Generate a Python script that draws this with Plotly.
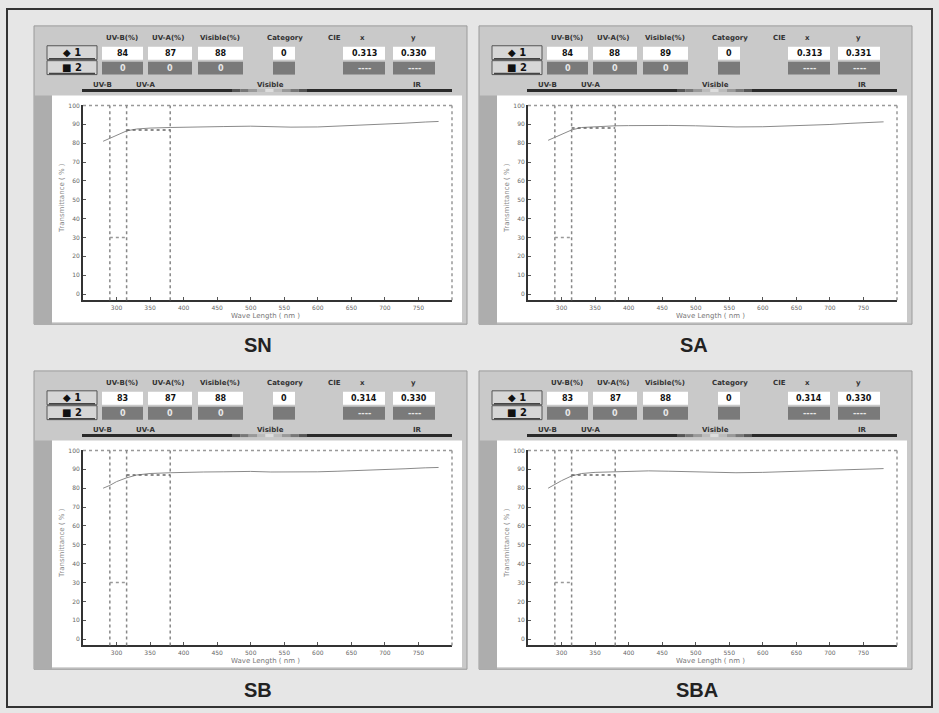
import plotly.graph_objects as go

W, H = 939, 713

# ---------------- data ----------------
SAMPLES = ["SN", "SA", "SB", "SBA"]
WAVELENGTH = [280, 290, 300, 315, 330, 350, 380, 400, 430, 460, 500, 530, 560, 600, 630, 660, 700, 730, 760, 780]
T_SN = [81.0, 82.5, 84.0, 86.5, 87.5, 88.0, 88.3, 88.5, 88.6, 88.8, 89.0, 88.7, 88.5, 88.6, 89.0, 89.5, 90.0, 90.6, 91.2, 91.5]
T_SA = [81.5, 83.0, 84.5, 87.0, 88.3, 88.8, 89.2, 89.3, 89.5, 89.4, 89.2, 88.8, 88.6, 88.7, 89.0, 89.4, 89.9, 90.5, 91.0, 91.3]
T_SB = [80.0, 81.5, 83.5, 85.5, 87.0, 87.8, 88.2, 88.5, 88.6, 88.7, 88.9, 88.6, 88.5, 88.7, 89.0, 89.3, 89.8, 90.3, 90.8, 91.0]
T_SBA = [80.0, 82.0, 84.0, 86.5, 87.8, 88.4, 88.8, 89.0, 89.2, 89.0, 88.7, 88.3, 88.2, 88.4, 88.7, 89.0, 89.4, 89.8, 90.2, 90.4]
CURVES = [T_SN, T_SA, T_SB, T_SBA]

UVB_PCT = [84, 84, 83, 83]
UVA_PCT = [87, 88, 87, 87]
VIS_PCT = [88, 89, 88, 88]
CATEGORY = [0, 0, 0, 0]
CIE_X = ["0.313", "0.313", "0.314", "0.314"]
CIE_Y = ["0.330", "0.331", "0.330", "0.330"]

BAND_EDGES = [290, 315, 380]
UVB_MARK = 30
COLUMN_LABELS = ["UV-B(%)", "UV-A(%)", "Visible(%)", "Category", "CIE", "x", "y"]
BAND_LABELS = ["UV-B", "UV-A", "Visible", "IR"]
X_TICKS = [300, 350, 400, 450, 500, 550, 600, 650, 700, 750]
Y_TICKS = [0, 10, 20, 30, 40, 50, 60, 70, 80, 90, 100]

# ---------------- layout helpers ----------------
def X(px):
    return px / W

def Y(py):
    return 1 - py / H

OFFSETS = [(0, 0), (445, 0), (0, 347), (445, 347)]
AX_L, AX_R, AX_T, AX_B = 83, 452, 102, 298
TITLE_POS = [(258, 343), (694, 343), (258, 690), (697, 690)]

fig = go.Figure()
shapes = []
ann = []

def rect(x0, y0, x1, y1, fill, line=None, lw=0, dash=None):
    d = dict(type="rect", xref="paper", yref="paper", x0=X(x0), x1=X(x1), y0=Y(y1), y1=Y(y0),
             fillcolor=fill, layer="below", line=dict(width=lw, color=line or fill))
    if dash:
        d["line"]["dash"] = dash
    shapes.append(d)

def hline(x0, x1, y, color, lw):
    shapes.append(dict(type="line", xref="paper", yref="paper", x0=X(x0), x1=X(x1), y0=Y(y), y1=Y(y),
                       line=dict(color=color, width=lw), layer="below"))

def text(x, y, s, size, color="#222", bold=True, family="DejaVu Sans", angle=0):
    ann.append(dict(xref="paper", yref="paper", x=X(x), y=Y(y), text=f"<b>{s}</b>" if bold else s,
                    showarrow=False, xanchor="center", yanchor="middle", textangle=angle,
                    font=dict(size=size, color=color, family=family)))

# outer frame
rect(7, 5, 932, 707, "rgba(0,0,0,0)", line="#333", lw=2)

col_centers = [122, 168, 220, 285, 334, 362, 413]
boxes = [(102, 143), (148, 192), (198, 243), (273, 295), (343, 385), (393, 435)]

for i, (dx, dy) in enumerate(OFFSETS):
    # panel
    rect(34 + dx, 22 + dy, 467 + dx, 322 + dy, "#c9c9c9", line="#9a9a9a", lw=1)
    rect(34 + dx, 92 + dy, 52 + dx, 322 + dy, "#adadad")
    rect(52 + dx, 92 + dy, 462 + dx, 320 + dy, "#ffffff")
    # buttons
    for r, (lab, yc) in enumerate([("\u25c6 1", 49), ("\u25a0 2", 64)]):
        rect(47 + dx, yc - 7 + dy, 97 + dx, yc + 7 + dy, "#d6d6d6", line="#555", lw=1)
        hline(49 + dx, 95 + dx, yc + 6 + dy, "#444", 1.5)
        text(72 + dx, yc + dy, lab, 10, "#111")
    # column headers
    for lab, cx in zip(COLUMN_LABELS, col_centers):
        text(cx + dx, 34 + dy, lab, 7, "#333")
    row1 = [str(UVB_PCT[i]), str(UVA_PCT[i]), str(VIS_PCT[i]), str(CATEGORY[i]), CIE_X[i], CIE_Y[i]]
    row2 = ["0", "0", "0", "", "----", "----"]
    for (bx0, bx1), v1, v2 in zip(boxes, row1, row2):
        rect(bx0 + dx, 43 + dy, bx1 + dx, 56 + dy, "#ffffff")
        text((bx0 + bx1) / 2 + dx, 49.5 + dy, v1, 8, "#111")
        rect(bx0 + dx, 58 + dy, bx1 + dx, 71 + dy, "#7a7a7a")
        if v2:
            text((bx0 + bx1) / 2 + dx, 64.5 + dy, v2, 8, "#e8e8e8")
    # band labels and bar
    for lab, cx in zip(BAND_LABELS, [102, 145, 270, 417]):
        text(cx + dx, 81 + dy, lab, 7, "#333")
    hline(82 + dx, 232 + dx, 87 + dy, "#2a2a2a", 3)
    grads = ["#555", "#777", "#999", "#bbb", "#ddd", "#bbb", "#999", "#777", "#555"]
    seg = (307 - 232) / len(grads)
    for k, c in enumerate(grads):
        hline(232 + dx + k * seg, 232 + dx + (k + 1) * seg, 87 + dy, c, 3)
    hline(307 + dx, 452 + dx, 87 + dy, "#2a2a2a", 3)

    # subplot
    xa = "x" if i == 0 else f"x{i + 1}"
    ya = "y" if i == 0 else f"y{i + 1}"
    fig.add_trace(go.Scatter(x=WAVELENGTH, y=CURVES[i], mode="lines", xaxis=xa, yaxis=ya,
                             line=dict(color="#8a8a8a", width=1), showlegend=False, hoverinfo="skip"))
    axis_common = dict(showgrid=False, zeroline=False, ticks="inside", ticklen=3, tickcolor="#555",
                       showline=True, linecolor="#333", linewidth=2,
                       tickfont=dict(size=6, color="#666", family="DejaVu Sans"))
    fig.update_layout(**{
        ("xaxis" if i == 0 else f"xaxis{i + 1}"): dict(
            domain=[X(AX_L + dx), X(AX_R + dx)], anchor=ya, range=[250, 800],
            tickvals=X_TICKS, ticktext=[str(v) for v in X_TICKS], **axis_common),
        ("yaxis" if i == 0 else f"yaxis{i + 1}"): dict(
            domain=[Y(AX_B + dy), Y(AX_T + dy)], anchor=xa, range=[-3.3, 100],
            tickvals=Y_TICKS, ticktext=[str(v) for v in Y_TICKS], **axis_common),
    })
    # dotted top/right border
    shapes.append(dict(type="line", xref=f"{xa} domain", yref=f"{ya} domain", x0=0, x1=1, y0=1, y1=1,
                       line=dict(color="#999", width=1.5, dash="dot")))
    shapes.append(dict(type="line", xref=f"{xa} domain", yref=f"{ya} domain", x0=1, x1=1, y0=0, y1=1,
                       line=dict(color="#999", width=1.5, dash="dot")))
    # band boundaries
    for e in BAND_EDGES:
        shapes.append(dict(type="line", xref=xa, yref=f"{ya} domain", x0=e, x1=e, y0=0, y1=1,
                           line=dict(color="#888", width=1.5, dash="dot")))
    shapes.append(dict(type="line", xref=xa, yref=ya, x0=BAND_EDGES[0], x1=BAND_EDGES[1],
                       y0=UVB_MARK, y1=UVB_MARK, line=dict(color="#999", width=1.5, dash="dot")))
    shapes.append(dict(type="line", xref=xa, yref=ya, x0=BAND_EDGES[1], x1=BAND_EDGES[2],
                       y0=UVA_PCT[i], y1=UVA_PCT[i], line=dict(color="#666", width=1.5, dash="dot")))
    # axis titles
    text(62 + dx, 195 + dy, "Transmittance ( % )", 7, "#888", bold=False, angle=-90)
    text(265 + dx, 314 + dy, "Wave Length ( nm )", 7, "#777", bold=False)
    # sample title
    tx, ty = TITLE_POS[i]
    text(tx, ty, SAMPLES[i], 20, "#222", family="Liberation Sans")

fig.update_layout(width=W, height=H, margin=dict(l=0, r=0, t=0, b=0),
                  paper_bgcolor="#e6e6e6", plot_bgcolor="rgba(0,0,0,0)",
                  shapes=shapes, annotations=ann, showlegend=False)
fig.write_html("out.html", config={"displayModeBar": False},
               post_script="document.body.style.margin='0';document.body.style.overflow='hidden';")
